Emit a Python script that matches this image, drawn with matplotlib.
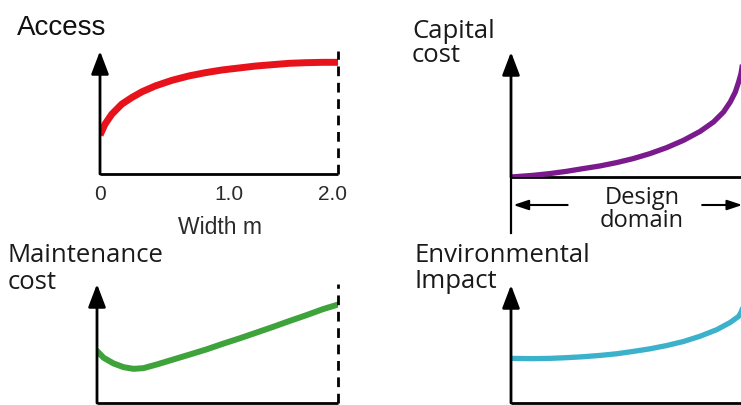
import matplotlib
matplotlib.use("Agg")
import matplotlib.pyplot as plt

W, H = 741, 405

# ---- data ----
access_x = [0.0, 0.042, 0.099, 0.183, 0.268, 0.352, 0.465, 0.606, 0.746, 0.887, 1.028,
            1.169, 1.31, 1.451, 1.592, 1.732, 1.873, 2.0]
access_y = [0.316, 0.405, 0.486, 0.568, 0.622, 0.668, 0.716, 0.762, 0.797, 0.824, 0.846,
            0.862, 0.878, 0.889, 0.900, 0.905, 0.908, 0.908]

capital_x = [0.0, 0.184, 0.326, 0.468, 0.610, 0.752, 0.894, 1.035, 1.177, 1.319, 1.461,
             1.603, 1.716, 1.801, 1.858, 1.901, 1.929, 1.949, 1.97]
capital_y = [0.0, 0.013, 0.027, 0.045, 0.067, 0.088, 0.115, 0.147, 0.187, 0.235, 0.293,
             0.365, 0.44, 0.52, 0.60, 0.68, 0.76, 0.827, 0.95]

maint_x = [0.0, 0.055, 0.138, 0.221, 0.303, 0.386, 0.497, 0.634, 0.772, 0.910, 1.048,
           1.186, 1.324, 1.462, 1.6, 1.738, 1.876, 1.986]
maint_y = [0.437, 0.380, 0.332, 0.301, 0.287, 0.293, 0.324, 0.366, 0.408, 0.451, 0.499,
           0.544, 0.592, 0.640, 0.690, 0.738, 0.789, 0.823]

env_x = [0.0, 0.184, 0.326, 0.468, 0.61, 0.752, 0.894, 1.035, 1.177, 1.319, 1.461,
         1.603, 1.745, 1.858, 1.929, 1.949, 1.97]
env_y = [0.378, 0.376, 0.378, 0.384, 0.392, 0.403, 0.417, 0.437, 0.459, 0.487, 0.521,
         0.566, 0.622, 0.683, 0.734, 0.768, 0.82]

tick_pos = [0.0, 1.08, 1.95]
tick_labels = ["0", "1.0", "2.0"]

fig = plt.figure(figsize=(W / 100, H / 100), dpi=100)
fig.patch.set_facecolor("white")


def px_axes(l, t, r, b):
    return fig.add_axes([l / W, 1 - b / H, (r - l) / W, (b - t) / H])


def style(ax):
    ax.set_xlim(0, 2)
    ax.set_ylim(0, 1)
    for s in ax.spines.values():
        s.set_visible(False)
    ax.set_xticks([])
    ax.set_yticks([])
    ax.patch.set_alpha(0)
    ax.plot([0, 2], [0, 0], color="black", lw=2.0, clip_on=False, solid_capstyle="butt")
    ax.annotate("", xy=(0, 1.0), xytext=(0, 0), xycoords="data",
                arrowprops=dict(arrowstyle="-|>,head_length=1.0,head_width=0.38",
                                mutation_scale=14, lw=2.0, color="black",
                                shrinkA=0, shrinkB=0), annotation_clip=False)


def ftext(x, y, s, **kw):
    fig.text(x / W, 1 - y / H, s, **kw)


# Access (top-left)
ax1 = px_axes(100, 51, 338, 174)
style(ax1)
ax1.plot(access_x, access_y, color="#e8121b", lw=5.0, solid_capstyle="butt")
ax1.plot([2, 2], [0, 1.0], color="black", lw=2.0, ls=(0, (3.5, 2.4)), clip_on=False)
ax1.set_xticks(tick_pos)
ax1.set_xticklabels(tick_labels, fontsize=15, family="Liberation Sans", color="#2a2a2a")
ax1.tick_params(axis="x", length=0, pad=8)

# Capital cost (top-right)
ax2 = px_axes(511, 52, 747, 177)
style(ax2)
ax2.plot(capital_x, capital_y, color="#7b1a8c", lw=3.8)
ax2.plot([0, 0], [0, -0.45], color="black", lw=1.6, clip_on=False)
ax2.plot([2, 2], [0, -0.45], color="black", lw=1.6, clip_on=False)
arrow_kw = dict(arrowstyle="-|>,head_length=0.9,head_width=0.3", mutation_scale=10,
                lw=1.5, color="black", shrinkA=0, shrinkB=0)
ax2.annotate("", xy=(0.02, -0.224), xytext=(0.48, -0.224), arrowprops=arrow_kw,
             annotation_clip=False)
ax2.annotate("", xy=(1.96, -0.224), xytext=(1.62, -0.224), arrowprops=arrow_kw,
             annotation_clip=False)

# Maintenance cost (bottom-left)
ax3 = px_axes(97, 284, 338, 403)
style(ax3)
ax3.plot(maint_x, maint_y, color="#3da33a", lw=4.3)
ax3.plot([2, 2], [0, 1.0], color="black", lw=2.0, ls=(0, (3.5, 2.4)), clip_on=False)

# Environmental impact (bottom-right)
ax4 = px_axes(511, 285, 747, 403)
style(ax4)
ax4.plot(env_x, env_y, color="#3bb1cb", lw=3.8)

# ---- texts ----
hel = "Liberation Sans"
myr = "Open Sans"
ftext(17, 35, "Access", fontsize=20, family=hel, color="#111111", va="baseline", ha="left")
ftext(220, 234, "Width m", fontsize=16.5, family=hel, color="#2a2a2a", va="baseline", ha="center")

ftext(412, 38, "Capital", fontsize=18.5, family=myr, color="#1a1a1a", va="baseline", ha="left")
ftext(412, 62, "cost", fontsize=18.5, family=myr, color="#1a1a1a", va="baseline", ha="left")
ftext(642, 204, "Design", fontsize=17, family=myr, color="#1a1a1a", va="baseline", ha="center")
ftext(642, 227, "domain", fontsize=17, family=myr, color="#1a1a1a", va="baseline", ha="center")

ftext(8, 262, "Maintenance", fontsize=18.5, family=myr, color="#1a1a1a", va="baseline", ha="left")
ftext(8, 289, "cost", fontsize=18.5, family=myr, color="#1a1a1a", va="baseline", ha="left")
ftext(415, 262, "Environmental", fontsize=18.5, family=myr, color="#1a1a1a", va="baseline", ha="left")
ftext(415, 288, "Impact", fontsize=18.5, family=myr, color="#1a1a1a", va="baseline", ha="left")

fig.savefig("out.png", dpi=100, facecolor="white")
